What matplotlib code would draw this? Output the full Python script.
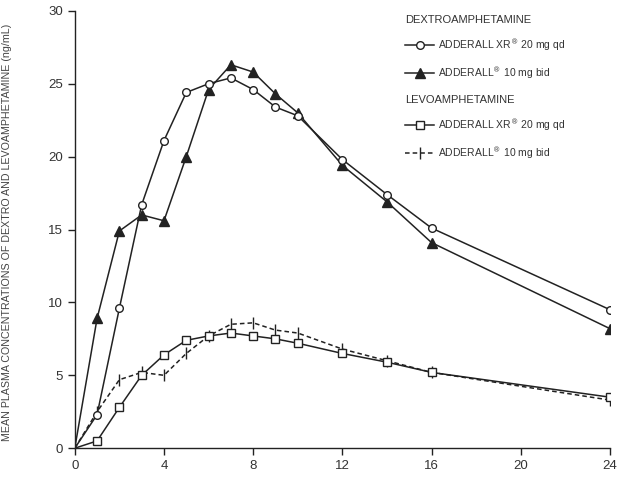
import matplotlib
matplotlib.use("Agg")
import matplotlib.pyplot as plt

plt.rcParams['font.family'] = ['Liberation Sans', 'DejaVu Sans']

# hours after dosing
hours = [0, 1, 2, 3, 4, 5, 6, 7, 8, 9, 10, 12, 14, 16, 24]

# dextroamphetamine (ng/mL)
dextro_xr = [0, 2.3, 9.6, 16.7, 21.1, 24.4, 25.0, 25.4, 24.6, 23.4, 22.8, 19.8, 17.4, 15.1, 9.5]
dextro_ir = [0, 8.9, 14.9, 16.0, 15.6, 20.0, 24.6, 26.3, 25.8, 24.3, 23.0, 19.4, 16.9, 14.1, 8.2]

# levoamphetamine (ng/mL)
levo_xr = [0, 0.5, 2.8, 5.0, 6.4, 7.4, 7.7, 7.9, 7.7, 7.5, 7.2, 6.5, 5.9, 5.2, 3.5]
levo_ir = [0, 2.5, 4.7, 5.2, 5.0, 6.5, 7.7, 8.5, 8.6, 8.1, 7.9, 6.8, 6.0, 5.2, 3.3]

xticks = [0, 4, 8, 12, 16, 20, 24]
yticks = [0, 5, 10, 15, 20, 25, 30]

lab_xr = r'ADDERALL XR$^{\circledR}$ 20 mg qd'
lab_ir = r'ADDERALL$^{\circledR}$ 10 mg bid'

ink = '#222222'
txt = '#333333'

fig = plt.figure(figsize=(6.18, 4.92), dpi=100)
ax = fig.add_axes([0.121, 0.089, 0.866, 0.889])

mk = slice(1, None)
l1, = ax.plot(hours, dextro_xr, color=ink, lw=1.1, marker='o', ms=5.5,
              mfc='white', mec=ink, mew=1.0, markevery=mk, zorder=4)
l2, = ax.plot(hours, dextro_ir, color=ink, lw=1.1, marker='^', ms=6.5,
              mfc=ink, mec=ink, markevery=mk, zorder=3)
l3, = ax.plot(hours, levo_xr, color=ink, lw=1.1, marker='s', ms=5.5,
              mfc='white', mec=ink, mew=1.0, markevery=mk, zorder=4)
l4, = ax.plot(hours, levo_ir, color=ink, lw=1.1, ls=(0, (3, 2)), marker='|', ms=8,
              mec=ink, mew=1.0, markevery=mk, zorder=3)

ax.set_xlim(0, 24)
ax.set_ylim(0, 30)
ax.set_xticks(xticks)
ax.set_yticks(yticks)
ax.tick_params(direction='out', length=5, width=1, colors=ink, labelsize=9.5,
               labelcolor=txt)
ax.spines['top'].set_visible(False)
ax.spines['right'].set_visible(False)
for s in ('left', 'bottom'):
    ax.spines[s].set_color(ink)
    ax.spines[s].set_linewidth(1.0)
ax.set_ylabel('MEAN PLASMA CONCENTRATIONS OF DEXTRO AND LEVOAMPHETAMINE (ng/mL)',
              fontsize=7.7, color='#444444')
ax.yaxis.set_label_coords(-0.118, 0.494)

leg_kw = dict(frameon=False, fontsize=7.5, handlelength=2.8, handletextpad=0.4,
              labelspacing=1.15, borderaxespad=0, borderpad=0, alignment='left')
leg1 = ax.legend([l1, l2], [lab_xr, lab_ir], title='DEXTROAMPHETAMINE',
                 loc='upper left', bbox_to_anchor=(0.617, 0.99), **leg_kw)
ax.add_artist(leg1)
leg2 = ax.legend([l3, l4], [lab_xr, lab_ir], title='LEVOAMPHETAMINE',
                 loc='upper left', bbox_to_anchor=(0.617, 0.808), **leg_kw)
for leg in (leg1, leg2):
    leg.get_title().set_fontsize(8)
    leg.get_title().set_color(txt)
    for t in leg.get_texts():
        t.set_color(txt)

fig.savefig('out.png', dpi=100)
